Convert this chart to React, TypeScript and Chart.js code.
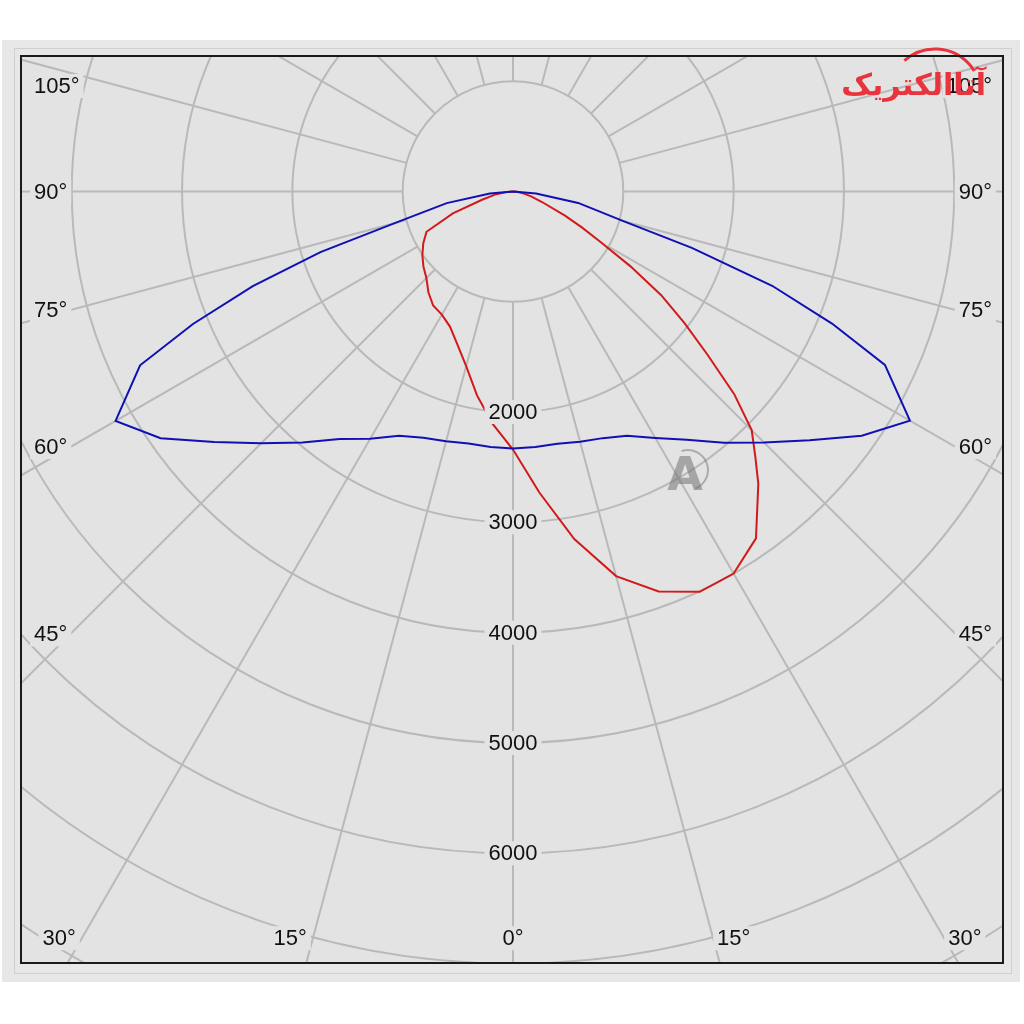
import React, { useEffect, useRef } from "react";
import { Chart, registerables } from "chart.js";

Chart.register(...registerables);

// Luminous intensity (cd) vs. angle (deg, 0 = straight down, negative = left)
const BLUE_ANGLES = [-90, -85, -80, -75, -72.5, -70, -67.5, -65, -60, -55, -50, -45, -40, -35, -30, -25, -20, -15, -10, -5, 0, 5, 10, 15, 20, 25, 30, 35, 40, 45, 50, 55, 60, 65, 67.5, 70, 72.5, 75, 80, 85, 90];
const BLUE_VALUES = [0, 210, 610, 1110, 1830, 2510, 3140, 3730, 4160, 3900, 3535, 3230, 2970, 2740, 2590, 2445, 2376, 2345, 2321, 2325, 2330, 2325, 2322, 2350, 2380, 2445, 2580, 2748, 2975, 3218, 3510, 3860, 4155, 3720, 3130, 2500, 1700, 1030, 600, 210, 0];

const RED_ANGLES = [-90, -85, -80, -75, -70, -65, -60, -55, -50, -45, -40, -35, -30, -25, -20, -15, -10, -5, 0, 5, 10, 15, 20, 25, 30, 35, 40, 42.5, 45, 47.5, 50, 52.5, 55, 57.5, 60, 62.5, 65, 70, 75, 80, 85, 90];
const RED_VALUES = [0, 60, 165, 290, 580, 865, 939, 1003, 1060, 1110, 1193, 1262, 1290, 1352, 1475, 1640, 1878, 2115, 2340, 2740, 3200, 3610, 3860, 4005, 4000, 3840, 3460, 3250, 3060, 2720, 2300, 1960, 1640, 1260, 920, 700, 520, 280, 170, 90, 40, 0];

const RING_VALUES = [1000, 2000, 3000, 4000, 5000, 6000, 7000, 8000, 9000];
const RING_LABELS = ["2000", "3000", "4000", "5000", "6000"];
const SPOKE_ANGLES = [0, 15, 30, 45, 60, 75, 90, 105, 120, 135, 150, 165, 180, 195, 210, 225, 240, 255, 270, 285, 300, 315, 330, 345];
const SIDE_LABEL_ANGLES = [105, 90, 75, 60, 45];
const BOTTOM_LABEL_ANGLES = [-30, -15, 0, 15, 30];

const X_MIN = -4460;
const X_MAX = 4442;
const Y_MIN = -6995;
const Y_MAX = 1228;

const FONT = '22px "Liberation Sans", Arial, sans-serif';
const PLOT_BG = "#e3e3e3";

function toXY(angleDeg: number, value: number) {
  const r = (angleDeg * Math.PI) / 180;
  return { x: value * Math.sin(r), y: -value * Math.cos(r) };
}

function drawLabel(ctx: CanvasRenderingContext2D, text: string, x: number, y: number, align: CanvasTextAlign) {
  ctx.font = FONT;
  const w = ctx.measureText(text).width;
  let x0 = x - w / 2;
  if (align === "left") x0 = x;
  if (align === "right") x0 = x - w;
  ctx.fillStyle = PLOT_BG;
  ctx.fillRect(x0 - 4, y - 12, w + 8, 24);
  ctx.fillStyle = "#111111";
  ctx.textAlign = align;
  ctx.textBaseline = "middle";
  ctx.fillText(text, x, y + 1);
}

const polarPlugin = {
  id: "polarGrid",
  beforeDraw(chart: any) {
    const ctx: CanvasRenderingContext2D = chart.ctx;
    const { left, top, right, bottom } = chart.chartArea;
    const xs = chart.scales.x;
    const ys = chart.scales.y;
    const cx = xs.getPixelForValue(0);
    const cy = ys.getPixelForValue(0);
    const k = xs.getPixelForValue(1000) - cx;
    ctx.save();
    ctx.fillStyle = "#ffffff";
    ctx.fillRect(0, 0, chart.width, chart.height);
    ctx.fillStyle = "#e7e7e7";
    ctx.fillRect(2, 40, 1018, 942);
    ctx.strokeStyle = "#cfcfcf";
    ctx.lineWidth = 1;
    ctx.strokeRect(14.5, 48.5, 997, 925);
    ctx.fillStyle = PLOT_BG;
    ctx.fillRect(left, top, right - left, bottom - top);
    ctx.beginPath();
    ctx.rect(left, top, right - left, bottom - top);
    ctx.clip();
    ctx.strokeStyle = "#b9b9b9";
    ctx.lineWidth = 2;
    RING_VALUES.forEach((v) => {
      ctx.beginPath();
      ctx.arc(cx, cy, (v / 1000) * k, 0, Math.PI * 2);
      ctx.stroke();
    });
    SPOKE_ANGLES.forEach((a) => {
      const r = (a * Math.PI) / 180;
      const dx = Math.sin(r);
      const dy = Math.cos(r);
      ctx.beginPath();
      ctx.moveTo(cx + dx * k, cy + dy * k);
      ctx.lineTo(cx + dx * k * 20, cy + dy * k * 20);
      ctx.stroke();
    });
    ctx.restore();
  },
  afterDatasetsDraw(chart: any) {
    const ctx: CanvasRenderingContext2D = chart.ctx;
    const { left, top, right, bottom } = chart.chartArea;
    const xs = chart.scales.x;
    const ys = chart.scales.y;
    const cx = xs.getPixelForValue(0);
    ctx.save();
    // watermark "A"
    ctx.fillStyle = "rgba(115,115,115,0.55)";
    ctx.font = 'bold 46px "DejaVu Sans", sans-serif';
    ctx.textAlign = "center";
    ctx.textBaseline = "middle";
    ctx.fillText("A", 685, 478);
    ctx.strokeStyle = "rgba(115,115,115,0.5)";
    ctx.lineWidth = 2;
    ctx.beginPath();
    ctx.arc(688, 470, 20, -1.9, 1.2);
    ctx.stroke();
    // ring labels
    RING_LABELS.forEach((t) => {
      const v = Number(t);
      drawLabel(ctx, t, cx, ys.getPixelForValue(-v), "center");
    });
    // side angle labels
    const D = 4015;
    SIDE_LABEL_ANGLES.forEach((a) => {
      const r = (a * Math.PI) / 180;
      let y = ys.getPixelForValue((-D * Math.cos(r)) / Math.sin(r));
      y = Math.max(y, top + 30);
      drawLabel(ctx, a + "°", left + 13, y, "left");
      drawLabel(ctx, a + "°", right - 11, y, "right");
    });
    // bottom angle labels
    const B = 6770;
    BOTTOM_LABEL_ANGLES.forEach((a) => {
      const r = (a * Math.PI) / 180;
      const x = xs.getPixelForValue(B * Math.tan(r));
      const y = ys.getPixelForValue(-B);
      const t = Math.abs(a) + "°";
      if (a < 0) drawLabel(ctx, t, x - 6, y, "right");
      else if (a > 0) drawLabel(ctx, t, x + 4, y, "left");
      else drawLabel(ctx, t, x, y, "center");
    });
    // logo text
    ctx.fillStyle = "#e8343c";
    ctx.font = 'bold 30px "DejaVu Sans", sans-serif';
    ctx.textAlign = "right";
    ctx.textBaseline = "alphabetic";
    ctx.fillText("آتاالکتریک", 986, 95);
    ctx.strokeStyle = "#e8343c";
    ctx.lineWidth = 3;
    ctx.beginPath();
    ctx.arc(935, 95, 46, -2.3, -0.55);
    ctx.stroke();
    // frame
    ctx.strokeStyle = "#1a1a1a";
    ctx.lineWidth = 2;
    ctx.strokeRect(left, top, right - left, bottom - top);
    ctx.restore();
  },
};

export default function App() {
  const canvasRef = useRef<HTMLCanvasElement | null>(null);
  useEffect(() => {
    if (!canvasRef.current) return;
    const chart = new Chart(canvasRef.current, {
      type: "scatter",
      data: {
        datasets: [
          {
            label: "C0-C180",
            data: BLUE_ANGLES.map((a, i) => toXY(a, BLUE_VALUES[i])),
            showLine: true,
            borderColor: "#1010b4",
            backgroundColor: "#1010b4",
            borderWidth: 2,
            pointRadius: 0,
            tension: 0,
            fill: false,
          },
          {
            label: "C90-C270",
            data: RED_ANGLES.map((a, i) => toXY(a, RED_VALUES[i])),
            showLine: true,
            borderColor: "#d21a1a",
            backgroundColor: "#d21a1a",
            borderWidth: 2,
            pointRadius: 0,
            tension: 0,
            fill: false,
          },
        ],
      },
      options: {
        animation: false,
        responsive: false,
        devicePixelRatio: 1,
        layout: { padding: { left: 21, top: 56, right: 21, bottom: 61 } },
        scales: {
          x: { type: "linear", min: X_MIN, max: X_MAX, display: false },
          y: { type: "linear", min: Y_MIN, max: Y_MAX, display: false },
        },
        plugins: { legend: { display: false }, tooltip: { enabled: false } },
      },
      plugins: [polarPlugin],
    });
    return () => chart.destroy();
  }, []);
  return (
    <div style={{ position: "absolute", left: 0, top: 0, width: 1024, height: 1024 }}>
      <canvas ref={canvasRef} width={1024} height={1024} />
    </div>
  );
}
